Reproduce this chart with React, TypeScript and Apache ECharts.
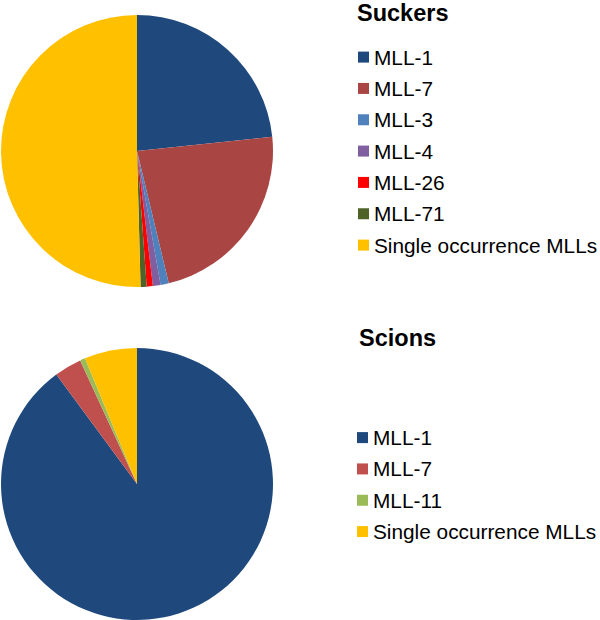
import React, { useEffect, useRef } from "react";
import * as echarts from "echarts";

// Angular shares (degrees of the pie)
const suckerNames = ["MLL-1", "MLL-7", "MLL-3", "MLL-4", "MLL-26", "MLL-71", "Single occurrence MLLs"];
const suckerValues = [84, 82.5, 3.5, 3.3, 2.6, 2.6, 181.5];
const suckerColors = ["#1F497D", "#A94644", "#4F81BD", "#7F5F9F", "#FF0000", "#4F6228", "#FFC000"];

const scionNames = ["MLL-1", "MLL-7", "MLL-11", "Single occurrence MLLs"];
const scionValues = [323.6, 11.7, 2.2, 22.5];
const scionColors = ["#1F497D", "#C0504D", "#9BBB59", "#FFC000"];

const FONT = "'Liberation Sans', Arial, Helvetica, sans-serif";

export default function App() {
  const ref = useRef<HTMLDivElement>(null);
  useEffect(() => {
    if (!ref.current) return;
    const chart = echarts.init(ref.current, undefined, { renderer: "svg" });
    const mk = (names: string[], values: number[], colors: string[]) =>
      names.map((n, i) => ({ name: n, value: values[i], itemStyle: { color: colors[i] } }));
    const legendData = (names: string[], colors: string[]) =>
      names.map((n, i) => ({ name: n, itemStyle: { color: colors[i] } }));
    const legendCommon = {
      orient: "vertical" as const,
      icon: "rect",
      itemWidth: 11,
      itemHeight: 11,
      itemGap: 10.33,
      padding: 0,
      selectedMode: false,
      textStyle: { fontFamily: FONT, fontSize: 20.8, color: "#000" },
    };
    chart.setOption({
      animation: false,
      backgroundColor: "#fff",
      title: [
        {
          text: "Suckers",
          left: 357,
          top: 1,
          padding: 0,
          textStyle: { fontFamily: FONT, fontSize: 23.5, fontWeight: "bold", color: "#000" },
        },
        {
          text: "Scions",
          left: 359,
          top: 326,
          padding: 0,
          textStyle: { fontFamily: FONT, fontSize: 23.5, fontWeight: "bold", color: "#000" },
        },
      ],
      legend: [
        { ...legendCommon, left: 358, top: 46.6, data: legendData(suckerNames, suckerColors) },
        { ...legendCommon, left: 357, top: 427.1, data: legendData(scionNames, scionColors) },
      ],
      series: [
        {
          type: "pie",
          name: "Suckers",
          center: [137, 151],
          radius: 136,
          startAngle: 90,
          clockwise: true,
          label: { show: false },
          labelLine: { show: false },
          emphasis: { disabled: true },
          itemStyle: { borderWidth: 0 },
          data: mk(suckerNames, suckerValues, suckerColors),
        },
        {
          type: "pie",
          name: "Scions",
          center: [137, 484],
          radius: 136,
          startAngle: 90,
          clockwise: true,
          label: { show: false },
          labelLine: { show: false },
          emphasis: { disabled: true },
          itemStyle: { borderWidth: 0 },
          data: mk(scionNames, scionValues, scionColors),
        },
      ],
    });
    return () => chart.dispose();
  }, []);
  return (
    <div
      ref={ref}
      style={{ position: "fixed", left: 0, top: 0, width: 600, height: 620, background: "#fff" }}
    />
  );
}
